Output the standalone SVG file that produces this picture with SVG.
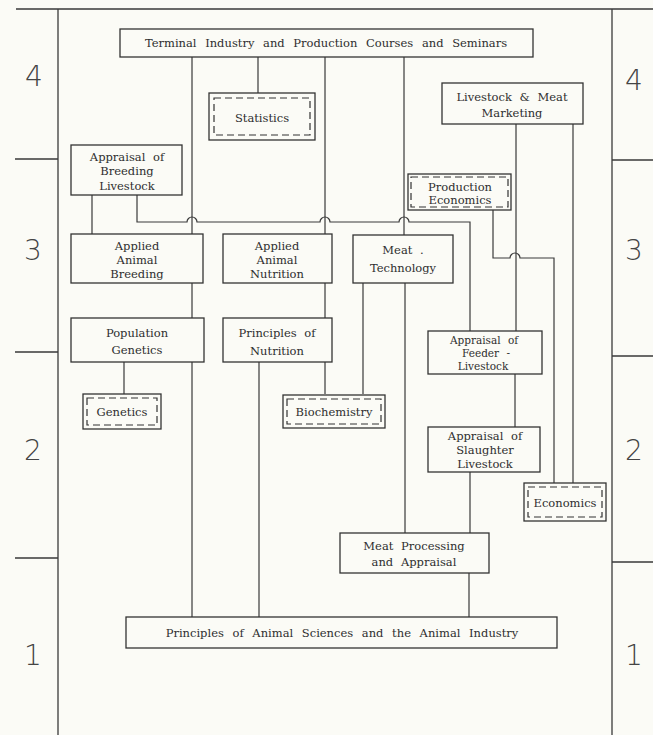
<svg xmlns="http://www.w3.org/2000/svg" width="653" height="735" viewBox="0 0 653 735">
<style>
.bg{fill:#fbfbf6}
.frame{stroke:#3a3a3a;stroke-width:1.3;fill:none}
.box{fill:#fbfbf6;stroke:#333;stroke-width:1.3}
.dash{fill:none;stroke:#333;stroke-width:1.2;stroke-dasharray:7 4}
.conn path{fill:none;stroke:#3a3a3a;stroke-width:1.2}
.t{font-family:"DejaVu Serif","Liberation Serif",serif;font-size:11.5px;fill:#2e2e2e;text-anchor:middle;word-spacing:4px}
.s{font-size:10.5px}
.num{font-family:"DejaVu Sans","Liberation Sans",sans-serif;font-size:28px;font-weight:200;fill:#444;text-anchor:middle}
</style>
<rect class="bg" x="0" y="0" width="653" height="735"/>
<g id="frame">
<path class="frame" d="M16 9 H653 M58 9 V735 M612 9 V735 M15 159 H58 M15 352 H58 M15 558 H58 M612 160 H653 M612 356 H653 M612 562 H653"/>
<text class="num" x="34" y="86">4</text>
<text class="num" x="33" y="260">3</text>
<text class="num" x="33" y="460">2</text>
<text class="num" x="33" y="665">1</text>
<text class="num" x="634" y="90">4</text>
<text class="num" x="634" y="260">3</text>
<text class="num" x="634" y="460">2</text>
<text class="num" x="634" y="665">1</text>
</g>
<g class="conn" id="connectors">
<path d="M192 57 V234 M192 283 V318 M192 362 V617"/>
<path d="M258 57 V93"/>
<path d="M325 57 V234 M325 283 V318 M325 362 V394"/>
<path d="M259 362 V617"/>
<path d="M404 57 V235 M405 283 V533"/>
<path d="M363 283 V394"/>
<path d="M92 195 V234"/>
<path d="M124 362 V394"/>
<path d="M137 195 V222 H187 A5 5 0 0 1 197 222 H320 A5 5 0 0 1 330 222 H399 A5 5 0 0 1 409 222 H470 V331"/>
<path d="M493 210 V258 H510 A5 5 0 0 1 520 258 H554 V483"/>
<path d="M516 124 V331 M515 374 V427"/>
<path d="M573 124 V483"/>
<path d="M470 472 V533"/>
<path d="M469 573 V617"/>
</g>
<g id="terminal">
<rect class="box" x="120" y="29" width="413" height="28"/>
<text class="t" x="326" y="47" style="word-spacing:5px">Terminal Industry and Production Courses and Seminars</text>
</g>
<g id="statistics">
<rect class="box" x="209" y="93" width="106" height="47"/>
<rect class="dash" x="214" y="98" width="96" height="37"/>
<text class="t" x="262" y="122">Statistics</text>
</g>
<g id="marketing">
<rect class="box" x="442" y="83" width="141" height="41"/>
<text class="t" x="512" y="101">Livestock &amp; Meat</text>
<text class="t" x="512" y="117">Marketing</text>
</g>
<g id="appraisal-breeding">
<rect class="box" x="71" y="145" width="111" height="50"/>
<text class="t" x="127" y="161">Appraisal of</text>
<text class="t" x="127" y="175">Breeding</text>
<text class="t" x="127" y="190">Livestock</text>
</g>
<g id="production-economics">
<rect class="box" x="408" y="174" width="103" height="36"/>
<rect class="dash" x="411" y="177" width="97" height="30"/>
<text class="t" x="460" y="191">Production</text>
<text class="t" x="460" y="204">Economics</text>
</g>
<g id="applied-breeding">
<rect class="box" x="71" y="234" width="132" height="49"/>
<text class="t" x="137" y="250">Applied</text>
<text class="t" x="137" y="264">Animal</text>
<text class="t" x="137" y="278">Breeding</text>
</g>
<g id="applied-nutrition">
<rect class="box" x="223" y="234" width="109" height="49"/>
<text class="t" x="277" y="250">Applied</text>
<text class="t" x="277" y="264">Animal</text>
<text class="t" x="277" y="278">Nutrition</text>
</g>
<g id="meat-technology">
<rect class="box" x="353" y="235" width="100" height="48"/>
<text class="t" x="403" y="254">Meat .</text>
<text class="t" x="403" y="272">Technology</text>
</g>
<g id="population-genetics">
<rect class="box" x="71" y="318" width="133" height="44"/>
<text class="t" x="137" y="337">Population</text>
<text class="t" x="137" y="354">Genetics</text>
</g>
<g id="principles-nutrition">
<rect class="box" x="223" y="318" width="109" height="44"/>
<text class="t" x="277" y="337">Principles of</text>
<text class="t" x="277" y="355">Nutrition</text>
</g>
<g id="genetics">
<rect class="box" x="83" y="394" width="78" height="35"/>
<rect class="dash" x="87" y="398" width="70" height="27"/>
<text class="t" x="122" y="416">Genetics</text>
</g>
<g id="biochemistry">
<rect class="box" x="283" y="395" width="102" height="33"/>
<rect class="dash" x="287" y="399" width="94" height="25"/>
<text class="t" x="334" y="416">Biochemistry</text>
</g>
<g id="appraisal-feeder">
<rect class="box" x="428" y="331" width="114" height="43"/>
<text class="t s" x="484" y="344">Appraisal of</text>
<text class="t s" x="486" y="357">Feeder -</text>
<text class="t s" x="483" y="370">Livestock</text>
</g>
<g id="appraisal-slaughter">
<rect class="box" x="428" y="427" width="112" height="45"/>
<text class="t" x="485" y="440">Appraisal of</text>
<text class="t" x="485" y="454">Slaughter</text>
<text class="t" x="485" y="468">Livestock</text>
</g>
<g id="economics">
<rect class="box" x="524" y="483" width="82" height="38"/>
<rect class="dash" x="528" y="487" width="74" height="30"/>
<text class="t" x="565" y="507">Economics</text>
</g>
<g id="meat-processing">
<rect class="box" x="340" y="533" width="149" height="40"/>
<text class="t" x="414" y="550">Meat Processing</text>
<text class="t" x="414" y="566">and Appraisal</text>
</g>
<g id="principles-animal-sciences">
<rect class="box" x="126" y="617" width="431" height="31"/>
<text class="t" x="342" y="637" style="word-spacing:5px">Principles of Animal Sciences and the Animal Industry</text>
</g>
</svg>
